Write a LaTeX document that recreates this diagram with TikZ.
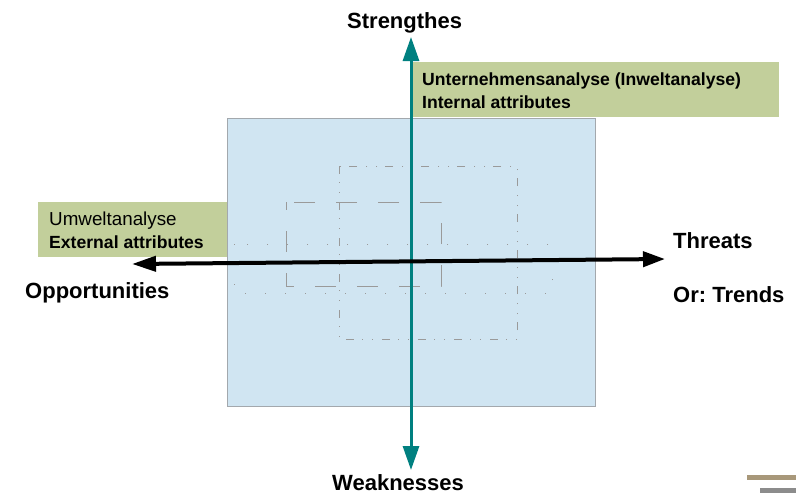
\documentclass[tikz,border=0pt]{standalone}
\usepackage{fontspec}
\setmainfont{Liberation Sans}
\usetikzlibrary{arrows.meta}
\definecolor{fieldblue}{HTML}{D0E5F2}
\definecolor{fieldedge}{HTML}{A3A8AD}
\definecolor{boxgreen}{HTML}{C2CF9B}
\definecolor{axisteal}{HTML}{008080}
\definecolor{guidegray}{HTML}{9A9A9A}
\definecolor{bartan}{HTML}{A8987A}
\definecolor{bargray}{HTML}{8C8C8C}
\frenchspacing
\tikzset{
  bigfont/.style={font=\fontsize{22}{26}\selectfont\bfseries},
  boxfont/.style={font=\fontsize{17.6}{21}\selectfont\bfseries},
  boxfontreg/.style={font=\fontsize{18.8}{21}\selectfont},
  txt/.style={anchor=base west, inner sep=0pt, text=black},
  greenbox/.style={fill=boxgreen, draw=none, anchor=north west, inner sep=0pt},
  guide/.style={draw=guidegray, line width=0.9pt},
  dashdotdot/.style={guide, dash pattern=on 8pt off 8pt on 1pt off 9pt on 1pt off 9pt},
  longdash/.style={guide, dash pattern=on 21pt off 21pt, dash phase=13pt},
  sparsedot/.style={guide, dash pattern=on 1.2pt off 18.8pt},
  tealaxis/.style={draw=axisteal, line width=3pt, {Triangle[length=24pt,width=16pt]}-{Triangle[length=24pt,width=16pt]}},
  blackaxis/.style={draw=black, line width=4pt, {Triangle[length=24pt,width=15pt]}-{Triangle[length=22pt,width=15pt]}},
}
\begin{document}
\begin{tikzpicture}[x=1pt,y=-1pt]
\useasboundingbox (0,0) rectangle (796,496);
% field
\node[fill=fieldblue, draw=fieldedge, line width=1.3pt, anchor=north west, inner sep=0pt,
      minimum width=368pt, minimum height=288pt] (field) at (227,118) {};
% guide rectangles
\draw[sparsedot] (234,244) rectangle (552,293);
\draw[dashdotdot] (339,166) rectangle (517,339);
\draw[longdash] (286,202) rectangle (441,286);
% green boxes
\node[greenbox, minimum width=368pt, minimum height=55pt] (intbox) at (411,62) {};
\node[greenbox, minimum width=189pt, minimum height=55pt] (extbox) at (38,202) {};
\node[txt, boxfont] (int1) at (422,85) {Unternehmensanalyse (Inweltanalyse)};
\node[txt, boxfont] (int2) at (422,108) {Internal attributes};
\node[txt, boxfontreg] (ext1) at (49,225) {Umweltanalyse};
\node[txt, boxfont] (ext2) at (49,248) {External attributes};
% axes
\coordinate (ntip) at (411,37);
\coordinate (stip) at (411,470);
\coordinate (wtip) at (132,264);
\coordinate (etip) at (665,259);
\draw[tealaxis] (stip) -- (ntip);
\draw[blackaxis] (wtip) -- (etip);
% labels
\node[txt, bigfont] (strength) at (347,28) {Strengthes};
\node[txt, bigfont] (weak) at (332,490) {Weaknesses};
\node[txt, bigfont] (opp) at (25,298) {Opportunities};
\node[txt, bigfont] (threat) at (673,248) {Threats};
\node[txt, bigfont] (trend) at (673,302) {Or: Trends};
% corner bars
\fill[bartan] (747,475) rectangle (796,480);
\fill[bargray] (760,488) rectangle (796,493);
\end{tikzpicture}
\end{document}
